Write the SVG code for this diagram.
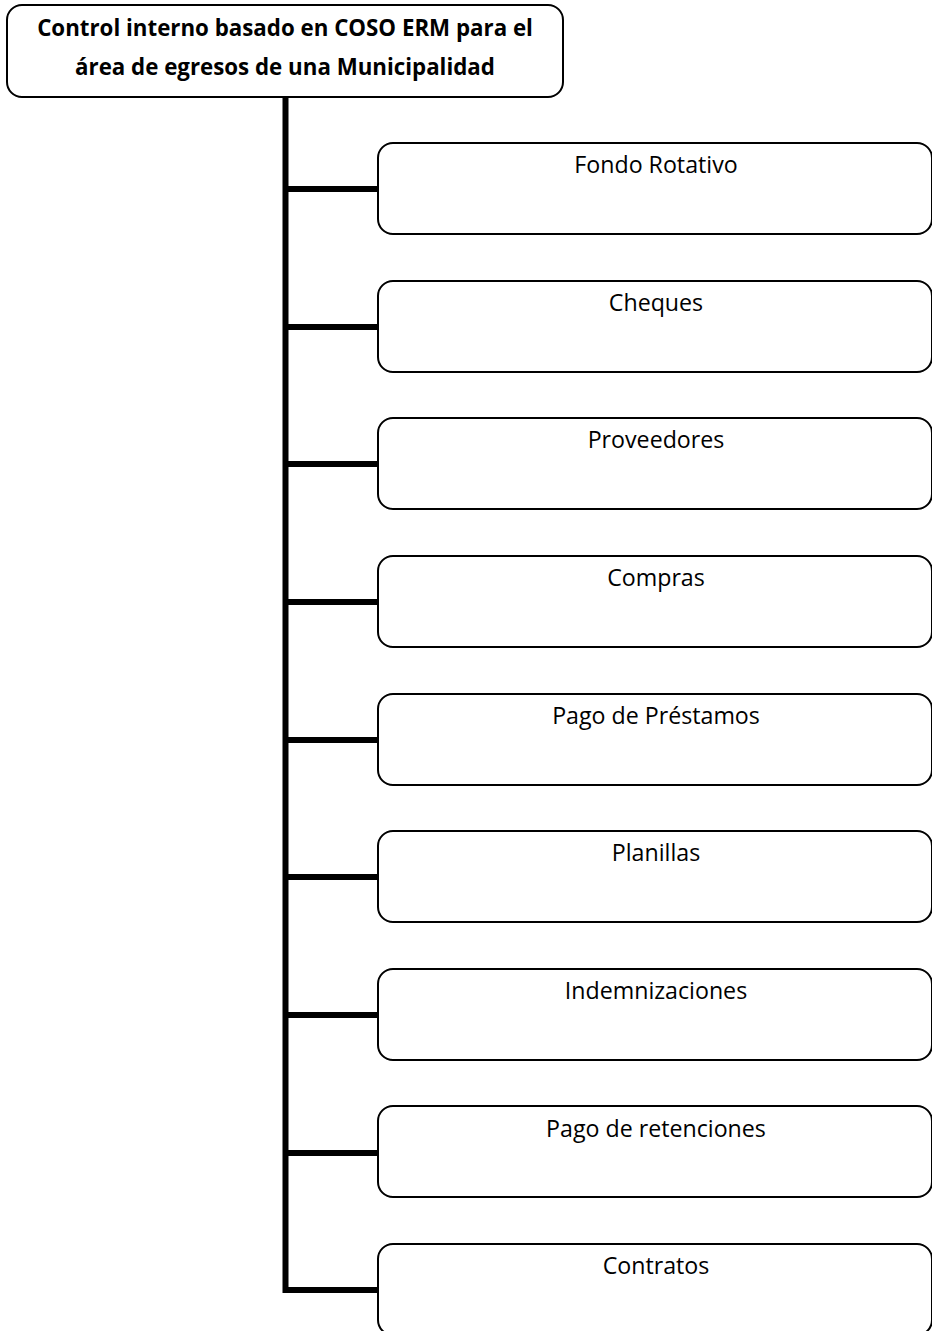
<svg xmlns="http://www.w3.org/2000/svg" width="932" height="1331" viewBox="0 0 932 1331">
  <style>
    .box { fill: #ffffff; stroke: #000000; stroke-width: 2; }
    .title { font-family: "Open Sans", "Liberation Sans", sans-serif; font-weight: bold; font-size: 22.3px; fill: #000000; text-anchor: middle; }
    .label { font-family: "Open Sans", "Liberation Sans", sans-serif; font-size: 23.2px; fill: #000000; text-anchor: middle; }
    .conn { fill: none; stroke: #000000; stroke-width: 6; stroke-linecap: butt; stroke-linejoin: miter; }
  </style>

  <rect width="932" height="1331" fill="#ffffff"/>

  <!-- connectors: trunk from the root down, with a branch to each item -->
  <g id="connectors">
    <path class="conn" d="M285.5 97 V1290 H378"/>
    <path class="conn" d="M285.5 189 H378"/>
    <path class="conn" d="M285.5 327 H378"/>
    <path class="conn" d="M285.5 464 H378"/>
    <path class="conn" d="M285.5 602 H378"/>
    <path class="conn" d="M285.5 740 H378"/>
    <path class="conn" d="M285.5 877 H378"/>
    <path class="conn" d="M285.5 1015 H378"/>
    <path class="conn" d="M285.5 1153 H378"/>
  </g>

  <g id="root">
    <rect class="box" x="7" y="5" width="556" height="92" rx="15" ry="15"/>
    <text class="title" x="285" y="36">Control interno basado en COSO ERM para el</text>
    <text class="title" x="285" y="75">área de egresos de una Municipalidad</text>
  </g>

  <g id="fondo-rotativo">
    <rect class="box" x="378" y="143" width="554" height="91" rx="15" ry="15"/>
    <text class="label" x="656" y="173">Fondo Rotativo</text>
  </g>
  <g id="cheques">
    <rect class="box" x="378" y="281" width="554" height="91" rx="15" ry="15"/>
    <text class="label" x="656" y="311">Cheques</text>
  </g>
  <g id="proveedores">
    <rect class="box" x="378" y="418" width="554" height="91" rx="15" ry="15"/>
    <text class="label" x="656" y="448">Proveedores</text>
  </g>
  <g id="compras">
    <rect class="box" x="378" y="556" width="554" height="91" rx="15" ry="15"/>
    <text class="label" x="656" y="586">Compras</text>
  </g>
  <g id="pago-prestamos">
    <rect class="box" x="378" y="694" width="554" height="91" rx="15" ry="15"/>
    <text class="label" x="656" y="724">Pago de Préstamos</text>
  </g>
  <g id="planillas">
    <rect class="box" x="378" y="831" width="554" height="91" rx="15" ry="15"/>
    <text class="label" x="656" y="861">Planillas</text>
  </g>
  <g id="indemnizaciones">
    <rect class="box" x="378" y="969" width="554" height="91" rx="15" ry="15"/>
    <text class="label" x="656" y="999">Indemnizaciones</text>
  </g>
  <g id="pago-retenciones">
    <rect class="box" x="378" y="1106" width="554" height="91" rx="15" ry="15"/>
    <text class="label" x="656" y="1137">Pago de retenciones</text>
  </g>
  <g id="contratos">
    <rect class="box" x="378" y="1244" width="554" height="91" rx="15" ry="15"/>
    <text class="label" x="656" y="1274">Contratos</text>
  </g>
</svg>
